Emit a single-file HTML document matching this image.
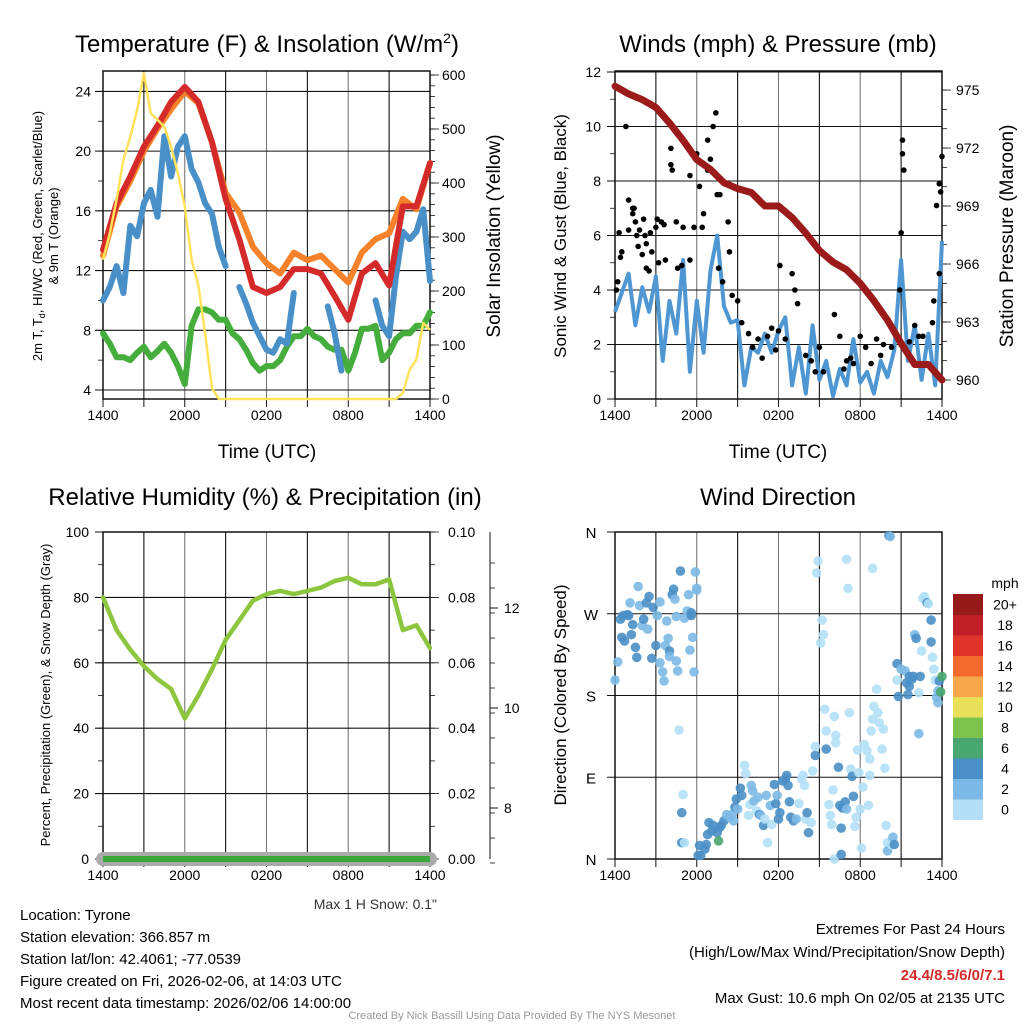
<!DOCTYPE html>
<html><head><meta charset="utf-8"><title>Tyrone Mesonet Meteogram</title>
<style>
html,body{margin:0;padding:0;background:#fff;}
svg{display:block;font-family:"Liberation Sans",Arial,sans-serif;}
</style></head>
<body>
<svg id="chart" width="1024" height="1024" viewBox="0 0 1024 1024" xmlns="http://www.w3.org/2000/svg">
<rect x="0" y="0" width="1024" height="1024" fill="#fff"/>
<text x="267" y="52" font-size="24" text-anchor="middle">Temperature (F) &amp; Insolation (W/m<tspan dy="-9" font-size="14">2</tspan><tspan dy="9">)</tspan></text>
<text x="778" y="52" font-size="24" text-anchor="middle">Winds (mph) &amp; Pressure (mb)</text>
<text x="265" y="505" font-size="24" text-anchor="middle">Relative Humidity (%) &amp; Precipitation (in)</text>
<text x="778" y="505" font-size="24" text-anchor="middle">Wind Direction</text>
<text x="267" y="458" font-size="19" text-anchor="middle">Time (UTC)</text>
<text x="778" y="458" font-size="19" text-anchor="middle">Time (UTC)</text>
<text transform="translate(42,236) rotate(-90)" font-size="13" text-anchor="middle">2m T, T<tspan dy="3" font-size="9">d</tspan><tspan dy="-3">, HI/WC (Red, Green, Scarlet/Blue)</tspan></text>
<text transform="translate(58,236) rotate(-90)" font-size="13" text-anchor="middle">&amp; 9m T (Orange)</text>
<text transform="translate(500,236) rotate(-90)" font-size="19" text-anchor="middle">Solar Insolation (Yellow)</text>
<text transform="translate(566,236) rotate(-90)" font-size="17" text-anchor="middle">Sonic Wind &amp; Gust (Blue, Black)</text>
<text transform="translate(1013,236) rotate(-90)" font-size="19" text-anchor="middle">Station Pressure (Maroon)</text>
<text transform="translate(50,695) rotate(-90)" font-size="13" text-anchor="middle">Percent, Precipitation (Green), &amp; Snow Depth (Gray)</text>
<text transform="translate(566,695) rotate(-90)" font-size="17" text-anchor="middle">Direction (Colored By Speed)</text>
<text x="1005" y="588" font-size="14" text-anchor="middle">mph</text>
<text x="437" y="909" font-size="14" text-anchor="end" fill="#333">Max 1 H Snow: 0.1"</text>
<g font-size="15">
<text x="20" y="920">Location: Tyrone</text>
<text x="20" y="942">Station elevation: 366.857 m</text>
<text x="20" y="964">Station lat/lon: 42.4061; -77.0539</text>
<text x="20" y="986">Figure created on Fri, 2026-02-06, at 14:03 UTC</text>
<text x="20" y="1008">Most recent data timestamp: 2026/02/06 14:00:00</text>
</g>
<g font-size="15" text-anchor="end">
<text x="1005" y="934">Extremes For Past 24 Hours</text>
<text x="1005" y="957">(High/Low/Max Wind/Precipitation/Snow Depth)</text>
<text x="1005" y="980" fill="#d42a2a" font-weight="bold">24.4/8.5/6/0/7.1</text>
<text x="1005" y="1003">Max Gust: 10.6 mph On 02/05 at 2135 UTC</text>
</g>
<text x="512" y="1019" font-size="11" fill="#999" text-anchor="middle">Created By Nick Bassill Using Data Provided By The NYS Mesonet</text>
</svg>
<script>
const hourTickLabels = ["1400","2000","0200","0800","1400"];
const hourTickHours = [0,6,12,18,24];
const tempTicks = [4,8,12,16,20,24];
const insolTicks = [0,100,200,300,400,500,600];
const windTicks = [0,2,4,6,8,10,12];
const presTicks = [960,963,966,969,972,975];
const rhTicks = [0,20,40,60,80,100];
const precipTicks = [0,0.02,0.04,0.06,0.08,0.10];
const snowTicks = [8,10,12];
const dirTickLabels = ["N","E","S","W","N"];
const dirTickDeg = [0,90,180,270,360];
const speedBinLabels = ["0","2","4","6","8","10","12","14","16","18","20+"];
const speedBinColors = ["#b3e0f7","#7cb9e6","#4a8fc7","#48a66e","#7ec24e","#e8e05a","#f7a84a","#f26a2e","#e0332a","#c01f27","#961a1c"];

const tempRed = [13.4,16.5,18.3,20.3,21.7,23.3,24.3,23.3,20.6,16.8,14.1,10.9,10.5,10.9,12.1,12.1,11.8,10.3,8.7,11.8,12.5,11.0,16.3,16.3,19.2];
const tempOrange = [13.0,16.3,18.0,20.0,21.5,22.8,24.0,23.2,20.6,17.2,15.9,13.6,12.5,11.8,13.2,12.7,13.0,12.1,11.2,13.2,14.1,14.5,16.8,16.1,19.2];
const tempBlue = [10.0,10.9,12.3,10.5,15.0,14.3,16.5,17.4,15.6,21.0,18.3,20.3,21.0,18.8,17.9,16.5,15.8,13.6,12.3,null,10.9,9.8,8.5,7.6,6.7,6.5,7.4,7.1,10.5,null,null,null,null,9.6,7.8,5.3,null,null,null,null,10.0,8.3,7.6,11.6,14.6,14.1,14.6,16.1,11.3];
const dewGreen = [7.8,7.1,6.2,6.2,6.0,6.5,6.9,6.2,6.6,7.1,6.5,5.6,4.4,8.3,9.4,9.4,9.2,8.7,8.7,7.8,7.4,6.7,5.8,5.3,5.6,5.6,6.0,6.9,7.6,7.6,8.1,7.6,7.4,6.9,6.7,6.7,5.3,6.5,8.1,8.1,8.3,6.0,6.5,7.4,7.8,7.8,8.3,8.3,9.2];
const insolation = [258,307,369,443,486,535,603,529,517,504,467,418,356,258,210,120,20,0,0,0,0,0,0,0,0,0,0,0,0,0,0,0,0,0,0,0,0,0,0,0,0,0,0,0,11,54,73,141,128];
const pressure = [975.2,974.8,974.5,974.1,973.3,972.4,971.4,970.9,970.2,969.9,969.7,969.0,969.0,968.4,967.6,966.7,966.1,965.7,965.0,964.1,963.1,961.9,960.8,960.8,960.0];
const windSpeed = [3.2,3.9,4.6,2.7,4.1,3.2,4.5,1.4,3.6,2.4,5.1,1.0,3.6,1.7,4.7,6.0,3.4,2.8,2.9,0.5,1.9,1.7,2.4,1.7,2.5,3.0,0.5,1.9,0.2,2.7,0.7,1.4,0.1,1.1,0.5,2.2,0.6,1.0,0.2,1.4,0.8,1.8,5.1,1.4,2.7,0.7,2.4,0.5,5.8];
const gustHours = [0.1,0.2,0.3,0.4,0.5,0.8,1.0,1.0,1.3,1.3,1.5,1.6,1.4,1.7,1.8,2.0,2.1,2.2,2.3,2.3,2.5,2.6,2.7,3.0,3.1,3.2,3.4,3.6,3.7,4.1,4.1,4.2,4.5,4.6,4.9,5.0,5.5,5.5,5.8,6.0,6.2,6.4,6.5,6.8,6.8,7.0,7.2,7.4,7.5,7.7,7.6,7.9,8.3,8.4,8.6,9.0,9.3,9.8,10.1,10.5,10.8,11.2,11.5,11.8,12.0,12.1,12.5,13.0,13.2,13.4,14.0,14.4,14.7,15.0,15.3,16.1,16.5,16.8,17.0,17.3,17.5,18.0,18.4,18.8,19.2,19.5,19.7,20.3,20.9,21.0,21.1,21.1,21.2,21.6,22.0,22.3,22.6,23.3,23.4,23.6,23.8,23.9,24.0,23.8];
const gustValues = [4.0,4.3,6.1,5.2,5.4,10.0,7.3,6.2,6.8,7.0,6.5,6.0,7.0,5.6,6.2,5.3,6.6,6.0,5.7,4.8,4.7,6.1,5.4,6.3,6.6,5.0,6.5,6.4,5.1,9.2,8.6,8.4,6.5,4.8,4.9,6.3,8.2,5.1,6.3,9.0,7.8,6.3,6.8,9.5,8.4,8.8,10.0,10.5,7.5,7.5,4.8,4.3,6.5,5.4,3.8,3.6,2.8,2.4,1.9,2.2,1.5,2.3,2.6,1.8,2.5,4.9,2.2,4.6,4.0,3.5,1.6,1.4,1.0,1.9,1.0,3.1,2.3,1.1,1.4,1.5,1.3,2.3,1.9,1.3,2.2,1.6,2.0,1.9,4.0,6.1,9.5,9.0,8.4,2.1,2.7,2.3,2.3,2.8,3.6,7.1,7.9,7.6,8.9,4.6];
const rh = [80,70,64,59,55,52,43,50,58,67,73,79,81,82,81,82,83,85,86,84,84,85.5,70,71.5,64.5];
const precip = [0,0,0,0,0,0,0,0,0,0,0,0,0,0,0,0,0,0,0,0,0,0,0,0,0];
const snowDepth = [0,0,0,0,0,0,0,0,0,0,0,0,0,0,0,0,0,0,0,0,0,0,0,0,0];
const dirHours = [0,0.2,0.4,0.6,0.9,0.5,0.7,1.1,1.0,1.2,1.3,1.5,1.6,1.7,1.8,2.0,2.1,2.3,2.4,2.5,2.7,2.8,3.0,3.1,3.3,3.3,3.5,3.6,3.7,3.8,3.9,4.0,4.0,4.2,4.3,4.4,4.5,4.5,4.6,4.8,4.7,5.1,5.3,5.4,5.5,5.6,5.6,5.7,5.8,5.9,6.0,6.0,5.0,4.9,4.9,5.1,6.1,6.3,6.2,6.6,6.7,6.8,6.9,7.1,7.2,7.5,7.6,7.7,7.8,8.0,8.2,8.4,8.6,8.7,8.8,8.9,9.0,9.2,9.3,9.5,9.6,9.8,9.9,10.0,10.1,10.2,10.4,10.5,10.6,10.7,10.9,11.0,11.1,11.2,11.4,11.5,11.7,11.8,11.9,12.0,12.1,12.3,12.5,12.6,12.7,12.8,12.9,13.1,13.3,13.5,13.7,13.8,13.9,14.0,14.1,14.2,14.4,14.5,14.7,14.7,14.8,14.9,15.1,15.2,15.3,15.4,15.5,15.5,15.7,15.8,15.9,16.0,16.1,16.1,16.2,16.2,16.4,16.5,16.6,16.6,16.7,16.9,17.0,17.0,17.1,17.2,17.3,17.4,17.5,17.6,17.7,17.8,17.9,18.0,18.1,18.2,18.3,18.5,18.6,18.7,18.7,18.8,18.9,18.9,19.0,19.2,19.3,19.4,19.6,19.7,19.8,19.9,20.0,20.0,20.1,20.2,20.3,20.4,20.5,20.7,20.7,20.8,21.0,21.3,21.4,21.5,21.6,21.6,21.8,21.9,22.0,22.1,22.3,22.3,22.4,22.5,22.6,22.7,22.9,23.0,23.2,23.2,23.3,23.4,23.5,23.6,23.7,23.7,23.8,24.0,23.9];
const dirDeg = [197,217,264,268,269,244,240,282,268,247,258,233,222,300,279,257,264,282,253,289,221,277,235,268,216,283,206,196,235,262,243,229,223,291,297,286,267,218,207,317,142,265,273,291,230,271,268,244,206,316,298,296,71,51,18,18,4,4,15,11,16,27,40,31,37,29,20,35,37,42,49,46,49,42,57,66,55,78,70,103,94,48,60,81,75,64,53,68,49,48,37,44,70,18,59,38,82,61,70,44,51,86,88,92,81,63,46,42,44,61,88,92,81,44,51,29,40,97,114,124,315,328,238,263,247,165,141,121,60,48,38,76,0,157,136,128,101,59,5,34,56,63,330,55,298,161,99,91,69,36,46,120,95,55,12,79,126,119,59,92,110,141,320,154,168,187,161,150,121,143,100,37,18,9,356,355,16,24,16,215,197,179,209,207,194,181,190,201,198,201,247,243,138,183,201,229,287,289,282,281,263,239,222,209,197,178,172,185,196,201,184];
const dirSpeed = [3,3,5,5,5,5,5,3,5,5,5,5,5,3,3,3,5,5,3,5,5,5,5,3,3,3,3,3,3,3,3,5,3,5,5,3,3,3,3,5,1,3,3,3,3,5,5,3,3,3,3,3,1,5,5,1,5,5,5,5,5,5,5,5,5,5,7,5,5,5,3,3,3,3,5,5,3,5,5,1,1,1,1,3,3,3,1,3,5,3,5,1,3,1,3,1,5,5,3,5,5,5,5,5,5,5,5,5,3,1,1,1,1,1,5,5,1,1,5,1,1,1,1,1,1,1,1,5,1,1,1,1,1,1,1,1,5,5,5,5,5,5,1,3,1,1,1,5,5,1,1,1,1,1,1,1,1,1,1,1,1,1,1,1,1,1,1,1,1,1,1,1,1,3,5,3,1,3,5,5,1,5,3,3,5,5,5,5,5,5,3,5,3,1,5,1,1,1,5,1,5,5,1,1,1,3,3,3,5,7,7,7];

const NS = "http://www.w3.org/2000/svg";
const svg = document.getElementById('chart');
function mk(tag, attrs, parent){
  const e = document.createElementNS(NS, tag);
  for (const k in attrs) e.setAttribute(k, attrs[k]);
  (parent || svg).appendChild(e);
  return e;
}
function linePath(xs, ys){
  let d = "", pen = false;
  for (let i=0;i<xs.length;i++){
    if (ys[i]===null || ys[i]===undefined || isNaN(ys[i])){ pen=false; continue; }
    d += (pen?"L":"M") + xs[i].toFixed(1) + "," + ys[i].toFixed(1);
    pen = true;
  }
  return d;
}
function mapY(arr, f){ return arr.map(v => (v===null ? null : f(v))); }
function addText(x,y,str,size,anchor,name){
  const t = mk('text',{x:x,y:y,'font-size':size,'text-anchor':anchor||'middle'});
  t.textContent = str;
  
  
  return t;
}
function hx(x0,x1){ return h => x0 + (x1-x0)*h/24; }

const P1 = {x0:103,x1:430,y0:71,y1:399};
const P2 = {x0:615,x1:942,y0:71,y1:399};
const P3 = {x0:103,x1:430,y0:532,y1:859};
const P4 = {x0:615,x1:942,y0:532,y1:859};
const x1s = hx(P1.x0,P1.x1), x2s = hx(P2.x0,P2.x1);
const yTemp = v => 390 - (v-4)*14.93;
const yIns = v => 399 - v*0.54;
const yWind = v => 399 - v*27.25;
const yPres = p => 380 - (p-960)*19.33;
const yRH = v => 859 - v*3.27;
const yPrecip = v => 859 - v*3270;
const ySnow = v => 808 - (v-8)*50;
const yDir = d => 859 - d*327/360;

function frame(P, name, vGrid, hVals, yfn){
  const g = mk('g',{});
  
  
  for (let h=3; h<24; h+=3){
    const xx = vGrid(h);
    const l = mk('line',{x1:xx,x2:xx,y1:P.y0,y2:P.y1,stroke:(h%6===0?'#777':'#111'),'stroke-width':1.1},g);
    
    
  }
  hVals.forEach(v=>{
    const yy = yfn(v);
    const l = mk('line',{x1:P.x0-8,x2:P.x1,y1:yy,y2:yy,stroke:'#111','stroke-width':1.1},g);
    
    
  });
  for (let h=0; h<=24; h+=3){
    const xx = vGrid(h);
    const t = mk('line',{x1:xx,x2:xx,y1:P.y1,y2:P.y1+8,stroke:'#111','stroke-width':1},g);
    
    
  }
  const r = mk('rect',{x:P.x0,y:P.y0,width:P.x1-P.x0,height:P.y1-P.y0,fill:'none',stroke:'#111','stroke-width':1.5},g);
  
  
  hourTickHours.forEach((h,i)=>{
    addText(vGrid(h), P.y1+21, hourTickLabels[i], 14, 'middle', 'x-tick-label');
  });
}
function minorTicks(x, from, to, step, yfn, dir, len){
  for (let v=from; v<=to+1e-9; v+=step){
    const yy = yfn(v);
    const t = mk('line',{x1:x,x2:x+dir*len,y1:yy,y2:yy,stroke:'#111','stroke-width':0.8});
    
    
  }
}

// Panel 1
frame(P1,'temp-plot-frame',x1s,tempTicks,yTemp);
minorTicks(P1.x0, 4, 24, 2, yTemp, -1, 5);
minorTicks(P1.x1, 0, 600, 20, yIns, 1, 5);
minorTicks(P1.x1, 0, 600, 100, yIns, 1, 9);
tempTicks.forEach(v=>addText(P1.x0-12, yTemp(v)+5, String(v), 14, 'end', 'temp-y-tick-label'));
insolTicks.forEach(v=>addText(P1.x1+12, yIns(v)+5, String(v), 14, 'start', 'insolation-tick-label'));
const hh49 = insolation.map((_,i)=>i*0.5);
const hh25 = tempRed.map((_,i)=>i);
let p;
p = mk('path',{d:linePath(hh49.map(x1s), mapY(dewGreen,yTemp)),fill:'none',stroke:'#44ad3c','stroke-width':6,'stroke-linejoin':'round','stroke-linecap':'round'});


p = mk('path',{d:linePath(hh49.map(x1s), mapY(tempBlue,yTemp)),fill:'none',stroke:'#4a90c8','stroke-width':6,'stroke-linejoin':'round','stroke-linecap':'round'});


p = mk('path',{d:linePath(hh25.map(x1s), mapY(tempOrange,yTemp)),fill:'none',stroke:'#f5822a','stroke-width':6,'stroke-linejoin':'round','stroke-linecap':'round'});


p = mk('path',{d:linePath(hh25.map(x1s), mapY(tempRed,yTemp)),fill:'none',stroke:'#d42a2a','stroke-width':6,'stroke-linejoin':'round','stroke-linecap':'round'});


p = mk('path',{d:linePath(hh49.map(x1s), mapY(insolation,yIns)),fill:'none',stroke:'#fde25a','stroke-width':2.5,'stroke-linejoin':'round'});



// Panel 2
frame(P2,'wind-plot-frame',x2s,windTicks,yWind);
minorTicks(P2.x0, 0, 12, 1, yWind, -1, 5);
minorTicks(P2.x1, 960, 975, 1, yPres, 1, 5);
minorTicks(P2.x1, 960, 975, 3, yPres, 1, 9);
windTicks.forEach(v=>addText(P2.x0-14, yWind(v)+5, String(v), 14, 'end', 'wind-y-tick-label'));
presTicks.forEach(v=>addText(P2.x1+14, yPres(v)+5, String(v), 14, 'start', 'pressure-tick-label'));
p = mk('path',{d:linePath(hh49.map(x2s), mapY(windSpeed,yWind)),fill:'none',stroke:'#4f97d2','stroke-width':4,'stroke-linejoin':'round'});


gustHours.forEach((h,i)=>{
  const c = mk('circle',{cx:x2s(h),cy:yWind(gustValues[i]),r:2.8,fill:'#000'});
  
  
});
p = mk('path',{d:linePath(hh25.map(x2s), mapY(pressure,yPres)),fill:'none',stroke:'#9b1b1b','stroke-width':7,'stroke-linejoin':'round','stroke-linecap':'round'});



// Panel 3
frame(P3,'rh-plot-frame',x1s,rhTicks,yRH);
minorTicks(P3.x0, 0, 100, 10, yRH, -1, 5);
minorTicks(P3.x1, 0, 0.1, 0.01, yPrecip, 1, 5);
minorTicks(P3.x1, 0, 0.1, 0.02, yPrecip, 1, 9);
rhTicks.forEach(v=>addText(P3.x0-14, yRH(v)+5, String(v), 14, 'end', 'rh-y-tick-label'));
precipTicks.forEach(v=>addText(P3.x1+18, yPrecip(v)+5, v.toFixed(2), 14, 'start', 'precip-tick-label'));
const snowAxis = mk('line',{x1:490,x2:490,y1:532,y2:859,stroke:'#111','stroke-width':1});


minorTicks(490, 6.9, 13.3, 0.5, ySnow, 1, 5);
snowTicks.forEach(v=>{
  const t = mk('line',{x1:490,x2:498,y1:ySnow(v),y2:ySnow(v),stroke:'#111','stroke-width':1});
  
  
  addText(504, ySnow(v)+5, String(v), 14, 'start', 'snow-tick-label');
});
p = mk('path',{d:linePath(hh25.map(x1s), mapY(snowDepth,yPrecip)),fill:'none',stroke:'#aaa','stroke-width':14,'stroke-linecap':'round'});


p = mk('path',{d:linePath(hh25.map(x1s), mapY(precip,yPrecip)),fill:'none',stroke:'#3aa83a','stroke-width':6});


p = mk('path',{d:linePath(hh25.map(x1s), mapY(rh,yRH)),fill:'none',stroke:'#8cc63f','stroke-width':4.5,'stroke-linejoin':'round','stroke-linecap':'round'});



// Panel 4
frame(P4,'direction-plot-frame',x2s,dirTickDeg,yDir);
dirTickLabels.forEach((s,i)=>addText(P4.x0-24, yDir(dirTickDeg[i])+6, s, 15, 'middle', 'direction-tick-label'));
function speedColor(s){ let b = Math.floor(s/2); if (b>10) b=10; if (b<0) b=0; return speedBinColors[b]; }
dirHours.forEach((h,i)=>{
  const c = mk('circle',{cx:x2s(h),cy:yDir(dirDeg[i]),r:4.8,fill:speedColor(dirSpeed[i]),'fill-opacity':0.9});
  
  
});
const cbTop = 594, cbH = 20.5;
speedBinLabels.forEach((lab,i)=>{
  const k = speedBinLabels.length-1-i;
  const r = mk('rect',{x:953,y:cbTop+k*cbH,width:30,height:cbH+0.5,fill:speedBinColors[i]});
  
  
  addText(1005, cbTop+k*cbH+cbH/2+5, lab, 14, 'middle', 'colorbar-label');
});
</script>
</body></html>
